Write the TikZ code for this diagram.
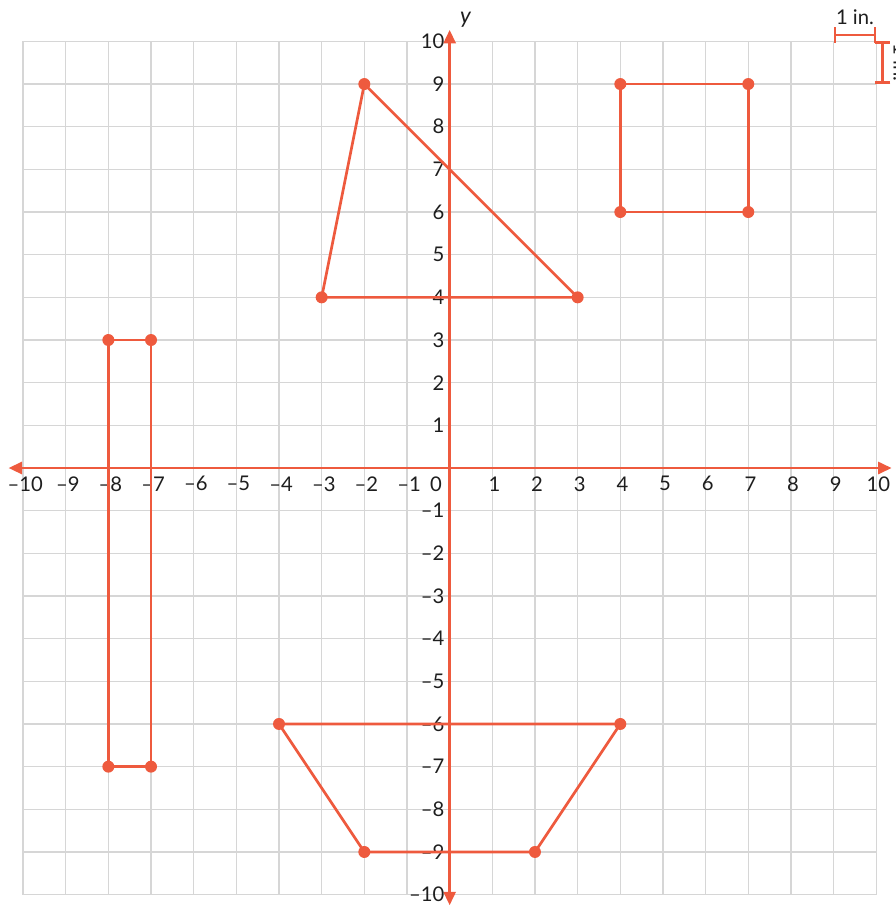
\documentclass[tikz,border=0pt]{standalone}
\usepackage{fontspec}
\setmainfont{Lato}
\usetikzlibrary{arrows.meta}

\definecolor{shapered}{RGB}{238,90,62}
\definecolor{gridgray}{RGB}{214,214,214}
\definecolor{labelgray}{RGB}{30,30,30}

\tikzset{
  gridline/.style={gridgray, line width=1pt},
  axisline/.style={shapered, line width=1.8pt, -{Triangle[length=9pt,width=8pt]}},
  figline/.style={shapered, line width=1.8pt, line join=round},
  vertexdot/.style={circle, fill=shapered, inner sep=0pt, minimum size=8pt},
  ticklabel/.style={labelgray, font=\fontsize{13.5}{15}\selectfont, inner sep=1pt},
  scalebar/.style={shapered, line width=1.8pt}
}

\begin{document}
\begin{tikzpicture}[x=1cm,y=1cm]
  \useasboundingbox (-10.54,-10.29) rectangle (10.46,10.97);

  % grid
  \foreach \k in {-10,...,10} {
    \draw[gridline] (\k,-10) -- (\k,10);
    \draw[gridline] (-10,\k) -- (10,\k);
  }

  % axes
  \coordinate (xl) at (-10.34,0);
  \coordinate (xr) at (10.36,0);
  \coordinate (yb) at (0,-10.25);
  \coordinate (yt) at (0,10.27);
  \draw[axisline] (0,0) -- (xr);
  \draw[axisline] (0,0) -- (xl);
  \draw[axisline] (0,0) -- (yt);
  \draw[axisline] (0,0) -- (yb);
  \node[labelgray, font=\fontsize{15}{17}\selectfont\itshape] (ylab) at (0.37,10.5) {y};
  \node[labelgray, font=\fontsize{15}{17}\selectfont\itshape, anchor=west] (xlab) at (10.4,0.15) {x};

  % tick labels
  \foreach \k in {-10,...,-1} {
    \node[ticklabel] (xt\k) at (\k+0.05,-0.37) {–\the\numexpr-\k\relax};
    \node[ticklabel, anchor=east] (yt\k) at (-0.08,\k) {–\the\numexpr-\k\relax};
  }
  \foreach \k in {1,...,10} {
    \node[ticklabel] (xt\k) at (\k+0.05,-0.37) {\k};
    \node[ticklabel, anchor=east] (yt\k) at (-0.08,\k) {\k};
  }
  \node[ticklabel] (zero) at (-0.32,-0.37) {0};

  % scale marks
  \coordinate (sa) at (9,10.15);
  \coordinate (sb) at (10,10.15);
  \draw[scalebar, |-|] (sa) -- (sb);
  \node[ticklabel] (slab) at (9.5,10.56) {1 in.};
  \coordinate (sc) at (10.15,10);
  \coordinate (sd) at (10.15,9);
  \draw[scalebar, |-|] (sc) -- (sd);
  \node[ticklabel, rotate=-90] (slab2) at (10.58,9.5) {1 in.};

  % triangle
  \coordinate (t1) at (-2,9);
  \coordinate (t2) at (-3,4);
  \coordinate (t3) at (3,4);
  \draw[figline] (t1) -- (t2) -- (t3) -- cycle;

  % square
  \coordinate (q1) at (4,9);
  \coordinate (q2) at (7,9);
  \coordinate (q3) at (7,6);
  \coordinate (q4) at (4,6);
  \draw[figline] (q1) -- (q2) -- (q3) -- (q4) -- cycle;

  % tall rectangle
  \coordinate (r1) at (-8,3);
  \coordinate (r2) at (-7,3);
  \coordinate (r3) at (-7,-7);
  \coordinate (r4) at (-8,-7);
  \draw[figline] (r1) -- (r2) -- (r3) -- (r4) -- cycle;

  % trapezoid
  \coordinate (p1) at (-4,-6);
  \coordinate (p2) at (4,-6);
  \coordinate (p3) at (2,-9);
  \coordinate (p4) at (-2,-9);
  \draw[figline] (p1) -- (p2) -- (p3) -- (p4) -- cycle;

  \foreach \v in {t1,t2,t3,q1,q2,q3,q4,r1,r2,r3,r4,p1,p2,p3,p4}
    \node[vertexdot] at (\v) {};
\end{tikzpicture}
\end{document}
